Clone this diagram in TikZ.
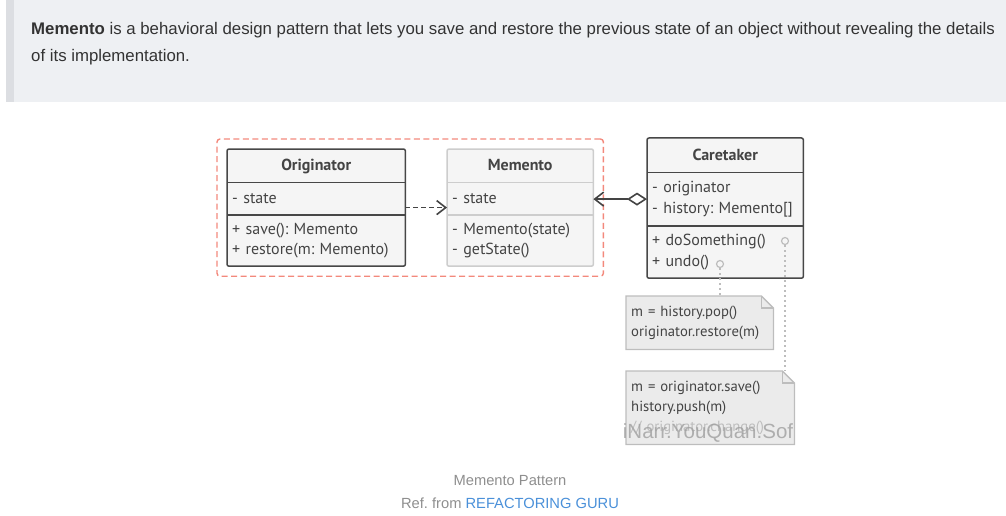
\documentclass[tikz,border=0pt]{standalone}
\usepackage{fontspec}
\setmainfont{Liberation Sans}
\newfontfamily\umlfont{PT Sans}
\usetikzlibrary{positioning,arrows.meta,fit,backgrounds}
\definecolor{bannerbg}{HTML}{EEF0F3}
\definecolor{stripe}{HTML}{DCDEE2}
\definecolor{bodytext}{HTML}{333333}
\definecolor{ink}{HTML}{444444}
\definecolor{darkline}{HTML}{474747}
\definecolor{lightline}{HTML}{CDCDCD}
\definecolor{boxfill}{HTML}{F5F5F5}
\definecolor{notefill}{HTML}{EBEBEB}
\definecolor{noteline}{HTML}{BDBDBD}
\definecolor{groupred}{HTML}{F3897C}
\definecolor{captiongray}{HTML}{8E8E8E}
\definecolor{linkblue}{HTML}{4A90D9}
\frenchspacing
\begin{document}
\begin{tikzpicture}[x=1pt,y=-1pt,every node/.style={inner sep=0pt}]
\tikzstyle{part}=[anchor=north west,inner xsep=5pt,align=left,text=ink,font=\umlfont\fontsize{16}{20.5}\selectfont]
\tikzstyle{head}=[part,align=center,text depth=0.1em,font=\umlfont\bfseries\fontsize{16}{20}\selectfont]
\tikzstyle{note}=[part,font=\umlfont\fontsize{14.7}{20}\selectfont]
\tikzstyle{dot}=[circle,draw=noteline,line width=1.2pt,minimum size=7pt]
\tikzstyle{barb}=[-{Straight Barb[length=9pt,width=14pt]}]
\useasboundingbox (0,0) rectangle (1006,516);

% banner
\fill[bannerbg] (6,0) rectangle (1006,102);
\fill[stripe] (6,0) rectangle (14,102);
\node[anchor=north west,align=left,text=bodytext,font=\fontsize{16.8}{27}\selectfont](intro) at (31,22.5)
  {\textbf{Memento} is a behavioral design pattern that lets you save and restore the previous state of an object without revealing the details\\of its implementation.};

% Originator
\node[head,text width=168pt,minimum height=33pt](org0) at (227,149){Originator};
\node[part,text width=168pt,minimum height=32pt,below=0pt of org0.south west,anchor=north west](org1){- state};
\node[part,text width=168pt,minimum height=51pt,below=0pt of org1.south west,anchor=north west](org2){+ save(): Memento\\+ restore(m: Memento)};

% Memento
\node[head,text width=136pt,minimum height=33pt](mem0) at (447,149){Memento};
\node[part,text width=136pt,minimum height=32pt,below=0pt of mem0.south west,anchor=north west](mem1){- state};
\node[part,text width=136pt,minimum height=51pt,below=0pt of mem1.south west,anchor=north west](mem2){- Memento(state)\\- getState()};

% Caretaker
\node[head,text width=146pt,minimum height=34pt](car0) at (647,138){Caretaker};
\node[part,text width=146pt,minimum height=53pt,below=0pt of car0.south west,anchor=north west](car1){- originator\\- history: Memento[]};
\node[part,text width=146pt,minimum height=52pt,below=0pt of car1.south west,anchor=north west](car2){+ doSomething()\\+ undo()};

\node[dot](d1) at (785,241){};
\node[dot](d2) at (720,264){};

% notes
\node[note,text width=137pt,minimum height=53pt](n1) at (626,296){m = history.pop()\\originator.restore(m)};
\node[note,text width=158pt,minimum height=73pt](n2) at (626,371){m = originator.save()\\history.push(m)\\\textcolor{noteline}{// originator.change()}};
\node[text=gray!75,opacity=0.8,font=\fontsize{20.5}{20}\selectfont](wm) at (708,433){iNarr.YouQuan.Sof};

\begin{scope}[on background layer]
\foreach \c/\l in {org/darkline,mem/lightline,car/darkline}{
  \filldraw[draw=\l,fill=boxfill,line width=1.5pt,rounded corners=2pt](\c0.north west) rectangle (\c2.south east);
  \draw[\l,line width=1.5pt](\c1.north west)--(\c1.north east);
  \draw[\l,line width=1.5pt](\c2.north west)--(\c2.north east);
}
\foreach \n in {n1,n2}{
  \filldraw[draw=noteline,fill=notefill,line width=1.3pt]
    (\n.north west)--([xshift=-12pt]\n.north east)--([yshift=-12pt]\n.north east)--(\n.south east)--(\n.south west)--cycle;
  \draw[noteline,line width=1.3pt]([xshift=-12pt]\n.north east)--([xshift=-12pt,yshift=-12pt]\n.north east)--([yshift=-12pt]\n.north east);
}
\end{scope}

% group
\node[draw=groupred,dash pattern=on 6pt off 3.5pt,line width=1.4pt,rounded corners=3pt,inner sep=10pt,fit=(org0)(org2)(mem0)(mem2)](grp){};

% connectors
\path[draw,ink,line width=1.6pt,dash pattern=on 5pt off 3pt,barb]([yshift=-9pt]org1.east)--([yshift=-9pt]mem1.west);
\path[draw,ink,line width=1.6pt,{Diamond[open,length=20pt,width=13pt]}-{Straight Barb[length=9pt,width=14pt]}](car1.west)--(mem1.east |- car1.west);
\path[draw,noteline,line width=1.6pt,dash pattern=on 2pt off 3pt](d2.south)--(d2 |- n1.north);
\path[draw,noteline,line width=1.6pt,dash pattern=on 2pt off 3pt](d1.south)--(d1 |- n2.north);

% caption
\node[text=captiongray,font=\fontsize{14.7}{16}\selectfont](cap) at (510,481){Memento Pattern};
\node[text=captiongray,font=\fontsize{14.7}{16}\selectfont](ref) at (510,503){Ref. from \textcolor{linkblue}{REFACTORING GURU}};
\end{tikzpicture}
\end{document}
